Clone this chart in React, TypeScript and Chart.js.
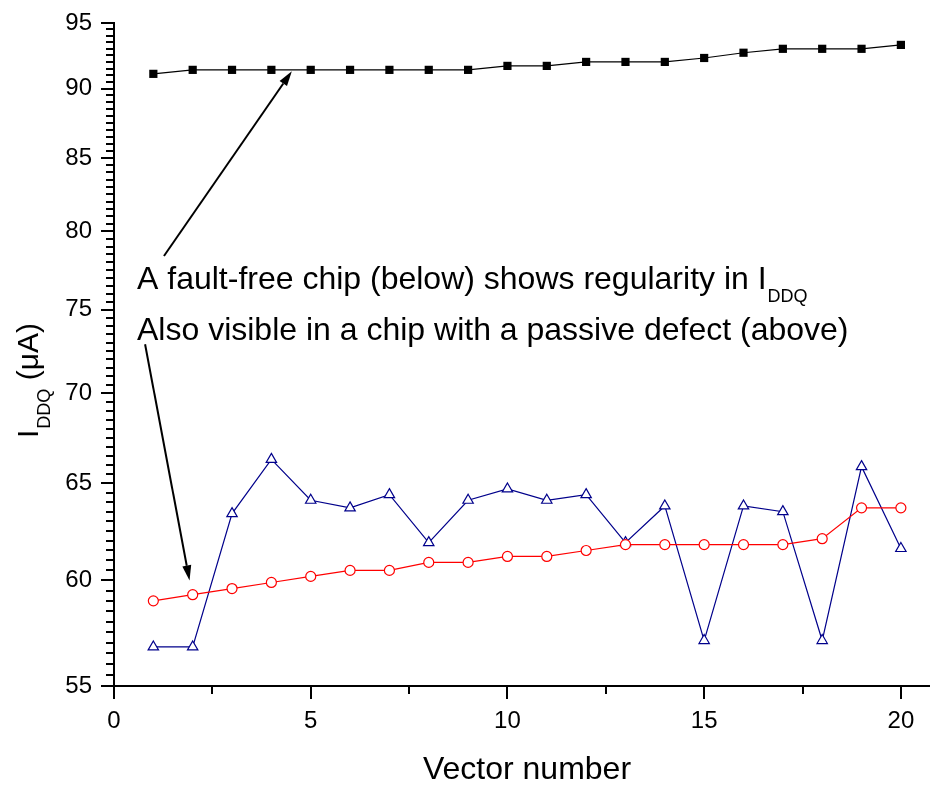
import React, { useEffect, useRef } from "react";
import { Chart, registerables } from "chart.js";

Chart.register(...registerables);

// ---- data ----
const vectorNumbers = [1, 2, 3, 4, 5, 6, 7, 8, 9, 10, 11, 12, 13, 14, 15, 16, 17, 18, 19, 20];
// chip with a passive defect (above)
const passiveDefectChip = [91.1, 91.4, 91.4, 91.4, 91.4, 91.4, 91.4, 91.4, 91.4, 91.7, 91.7, 92.0, 92.0, 92.0, 92.3, 92.7, 93.0, 93.0, 93.0, 93.3];
// fault-free chip (below)
const faultFreeChip = [59.0, 59.3, 59.6, 59.9, 60.2, 60.5, 60.5, 60.9, 60.9, 61.2, 61.2, 61.5, 61.8, 61.8, 61.8, 61.8, 61.8, 62.1, 63.7, 63.7];
// irregular chip
const irregularChip = [56.8, 56.8, 63.4, 66.3, 64.1, 63.7, 64.4, 61.9, 64.1, 64.7, 64.1, 64.4, 61.9, 63.8, 57.1, 63.8, 63.5, 57.1, 65.9, 61.6];

const xTickValues = [0, 5, 10, 15, 20];
const yTickValues = [55, 60, 65, 70, 75, 80, 85, 90, 95];

const annotationLine1 = ["A fault-free chip (below) shows regularity in I", "DDQ"];
const annotationLine2 = "Also visible in a chip with a passive defect (above)";
// arrows in data coordinates: [fromX, fromY, toX, toY]
const arrowUp = [1.27, 78.4, 4.52, 91.3];
const arrowDown = [0.79, 72.9, 1.92, 60.0];

const FONT = '"Liberation Sans", Arial, Helvetica, sans-serif';

function drawRich(ctx: CanvasRenderingContext2D, main: string, sub: string, tail: string, x: number, y: number, mainSize: number, subSize: number, subDrop: number) {
  ctx.font = `${mainSize}px ${FONT}`;
  ctx.fillText(main, x, y);
  let cx = x + ctx.measureText(main).width + 1;
  ctx.font = `${subSize}px ${FONT}`;
  ctx.fillText(sub, cx, y + subDrop);
  cx += ctx.measureText(sub).width;
  if (tail) {
    ctx.font = `${mainSize}px ${FONT}`;
    ctx.fillText(tail, cx, y);
  }
}

function drawArrow(ctx: CanvasRenderingContext2D, x1: number, y1: number, x2: number, y2: number) {
  const ang = Math.atan2(y2 - y1, x2 - x1);
  const headLen = 15;
  const headW = 4.5;
  const bx = x2 - headLen * Math.cos(ang);
  const by = y2 - headLen * Math.sin(ang);
  ctx.beginPath();
  ctx.moveTo(x1, y1);
  ctx.lineTo(bx, by);
  ctx.stroke();
  ctx.beginPath();
  ctx.moveTo(x2, y2);
  ctx.lineTo(bx + headW * Math.sin(ang), by - headW * Math.cos(ang));
  ctx.lineTo(bx - headW * Math.sin(ang), by + headW * Math.cos(ang));
  ctx.closePath();
  ctx.fill();
}

function yPixel(ys: any, v: number): number {
  const p = ys.getPixelForValue(v);
  if (Number.isFinite(p)) return p;
  const lo = Math.log10(ys.min);
  const hi = Math.log10(ys.max);
  return ys.getPixelForDecimal((Math.log10(v) - lo) / (hi - lo));
}

const overlayPlugin = {
  id: "overlay",
  afterDraw(chart: any) {
    const ctx: CanvasRenderingContext2D = chart.ctx;
    const xs = chart.scales.x;
    const ys = chart.scales.y;
    ctx.save();
    ctx.globalAlpha = 1;
    ctx.fillStyle = "#000000";
    ctx.strokeStyle = "#000000";
    ctx.lineWidth = 2;

    const axisX = Math.round(xs.getPixelForValue(0));
    const axisY = Math.round(yPixel(ys, 55));

    // y ticks (major every 5, minor every 0.5), outward
    for (let i = 0; i <= 80; i++) {
      const v = 55 + i * 0.5;
      const py = Math.round(yPixel(ys, v));
      const len = i % 10 === 0 ? 13 : 8;
      ctx.fillRect(axisX - len, py - 1, len + 1, 2);
    }

    // x ticks (major every 5, minor every 2.5), outward
    for (let i = 0; i <= 8; i++) {
      const v = i * 2.5;
      const px = Math.round(xs.getPixelForValue(v));
      const len = i % 2 === 0 ? 13 : 8;
      ctx.fillRect(px - 1, axisY - 1, 2, len + 1);
    }

    // axis titles
    ctx.textAlign = "left";
    ctx.textBaseline = "alphabetic";
    ctx.font = `32px ${FONT}`;
    const xt = "Vector number";
    const xtw = ctx.measureText(xt).width;
    ctx.fillText(xt, 527 - xtw / 2, 779);

    ctx.save();
    ctx.translate(38, 438);
    ctx.rotate(-Math.PI / 2);
    drawRich(ctx, "I", "DDQ", " (\u03bcA)", 0, 0, 30, 18, 12);
    ctx.restore();

    // annotation text
    drawRich(ctx, annotationLine1[0], annotationLine1[1], "", 137, 289, 32, 18, 13);
    ctx.font = `32px ${FONT}`;
    ctx.fillText(annotationLine2, 137, 340);

    // arrows
    ctx.lineWidth = 2;
    drawArrow(ctx, xs.getPixelForValue(arrowUp[0]), yPixel(ys, arrowUp[1]), xs.getPixelForValue(arrowUp[2]), yPixel(ys, arrowUp[3]));
    drawArrow(ctx, xs.getPixelForValue(arrowDown[0]), yPixel(ys, arrowDown[1]), xs.getPixelForValue(arrowDown[2]), yPixel(ys, arrowDown[3]));
    ctx.restore();
  },
};

function zeroPadding(scale: any) {
  scale.paddingTop = 0;
  scale.paddingBottom = 0;
  scale.paddingLeft = 0;
  scale.paddingRight = 0;
}

export default function App() {
  const ref = useRef<HTMLCanvasElement | null>(null);

  useEffect(() => {
    document.body.style.margin = "0";
    const canvas = ref.current;
    if (!canvas) return;
    const toPts = (arr: number[]) => arr.map((v, i) => ({ x: vectorNumbers[i], y: v }));
    const chart = new Chart(canvas, {
      type: "line",
      data: {
        datasets: [
          {
            label: "Chip with a passive defect",
            data: toPts(passiveDefectChip),
            borderColor: "#000000",
            backgroundColor: "#000000",
            borderWidth: 1.2,
            pointStyle: "rect",
            pointRadius: 5.8,
            pointBorderWidth: 0,
            pointBackgroundColor: "#000000",
            tension: 0,
          },
          {
            label: "Fault-free chip",
            data: toPts(faultFreeChip),
            borderColor: "#ff0000",
            backgroundColor: "#ff0000",
            borderWidth: 1.2,
            pointStyle: "circle",
            pointRadius: 5,
            pointBorderWidth: 1.2,
            pointBorderColor: "#ff0000",
            pointBackgroundColor: "#ffffff",
            tension: 0,
          },
          {
            label: "Chip",
            data: toPts(irregularChip),
            borderColor: "#00008b",
            backgroundColor: "#00008b",
            borderWidth: 1.2,
            pointStyle: "triangle",
            pointRadius: 6,
            pointBorderWidth: 1.2,
            pointBorderColor: "#00008b",
            pointBackgroundColor: "#ffffff",
            tension: 0,
          },
        ],
      },
      options: {
        animation: false,
        responsive: false,
        devicePixelRatio: 1,
        layout: { autoPadding: false, padding: { top: 23, right: 0, left: 0, bottom: 0 } },
        plugins: {
          legend: { display: false },
          tooltip: { enabled: false },
          title: { display: false },
        },
        scales: {
          x: {
            type: "linear",
            min: 0,
            max: 20.74,
            grid: { display: false, drawTicks: false },
            border: { display: true, color: "#000", width: 2 },
            afterBuildTicks: (scale: any) => {
              scale.ticks = xTickValues.map((v) => ({ value: v }));
            },
            afterFit: (scale: any) => {
              scale.height = 101;
              zeroPadding(scale);
            },
            ticks: {
              color: "#000",
              font: { family: FONT, size: 24 },
              padding: 21,
              maxRotation: 0,
              autoSkip: false,
              callback: (v: any) => String(v),
            },
          },
          y: {
            type: "logarithmic",
            min: 55,
            max: 95,
            grid: { display: false, drawTicks: false },
            border: { display: true, color: "#000", width: 2 },
            afterBuildTicks: (scale: any) => {
              scale.ticks = yTickValues.map((v) => ({ value: v }));
            },
            afterFit: (scale: any) => {
              scale.width = 114;
              zeroPadding(scale);
            },
            ticks: {
              color: "#000",
              font: { family: FONT, size: 24 },
              padding: 22,
              autoSkip: false,
              callback: (v: any) => String(v),
            },
          },
        },
      },
      plugins: [overlayPlugin],
    } as any);
    return () => chart.destroy();
  }, []);

  return (
    <div style={{ width: 930, height: 787 }}>
      <canvas ref={ref} width={930} height={787} style={{ display: "block" }} />
    </div>
  );
}
